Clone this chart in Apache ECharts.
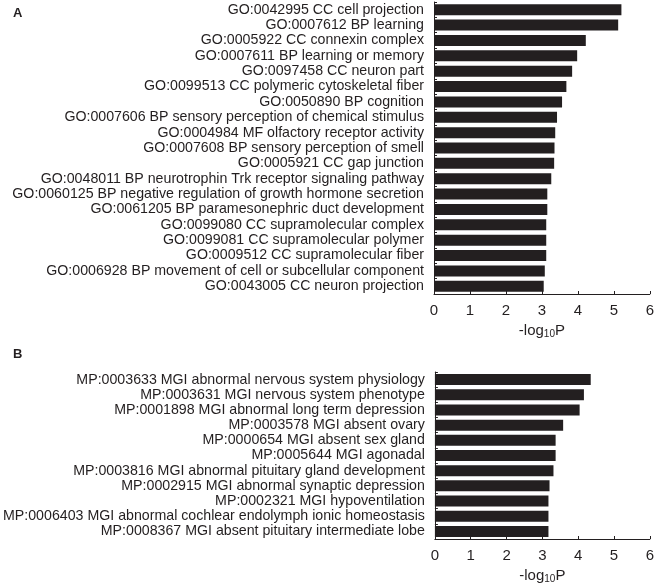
<!DOCTYPE html>
<html lang="en">
<head>
    <meta charset="UTF-8">
    <title>GO / MP enrichment</title>
    <script src="https://cdn.jsdelivr.net/npm/echarts@6/dist/echarts.min.js"></script>
    <style>
        html, body {
            margin: 0;
            height: 100%;
            background: #fff;
        }
    </style>
</head>
<body>
<div id="main" style="width: 657px;height: 585px"></div>
</body>
</html>
<script>
    // 上半部分 GO 条目
    var goTerms = [
        'GO:0042995 CC cell projection',
        'GO:0007612 BP learning',
        'GO:0005922 CC connexin complex',
        'GO:0007611 BP learning or memory',
        'GO:0097458 CC neuron part',
        'GO:0099513 CC polymeric cytoskeletal fiber',
        'GO:0050890 BP cognition',
        'GO:0007606 BP sensory perception of chemical stimulus',
        'GO:0004984 MF olfactory receptor activity',
        'GO:0007608 BP sensory perception of smell',
        'GO:0005921 CC gap junction',
        'GO:0048011 BP neurotrophin Trk receptor signaling pathway',
        'GO:0060125 BP negative regulation of growth hormone secretion',
        'GO:0061205 BP paramesonephric duct development',
        'GO:0099080 CC supramolecular complex',
        'GO:0099081 CC supramolecular polymer',
        'GO:0009512 CC supramolecular fiber',
        'GO:0006928 BP movement of cell or subcellular component',
        'GO:0043005 CC neuron projection'
    ];
    var goValues = [5.21, 5.12, 4.22, 3.98, 3.84, 3.68, 3.56, 3.42, 3.37, 3.35,
        3.34, 3.26, 3.15, 3.15, 3.12, 3.12, 3.12, 3.08, 3.05];

    // 下半部分 MP 条目
    var mpTerms = [
        'MP:0003633 MGI abnormal nervous system physiology',
        'MP:0003631 MGI nervous system phenotype',
        'MP:0001898 MGI abnormal long term depression',
        'MP:0003578 MGI absent ovary',
        'MP:0000654 MGI absent sex gland',
        'MP:0005644 MGI agonadal',
        'MP:0003816 MGI abnormal pituitary gland development',
        'MP:0002915 MGI abnormal synaptic depression',
        'MP:0002321 MGI hypoventilation',
        'MP:0006403 MGI abnormal cochlear endolymph ionic homeostasis',
        'MP:0008367 MGI absent pituitary intermediate lobe'
    ];
    var mpValues = [4.35, 4.16, 4.04, 3.58, 3.37, 3.37, 3.31, 3.20, 3.17, 3.17, 3.17];

    var xTicks = [0, 1, 2, 3, 4, 5, 6];

    var font = '"Liberation Sans", Arial, sans-serif';
    var barColor = '#231f20';

    function xAxisOf(idx) {
        return {
            type: 'value',
            gridIndex: idx,
            min: xTicks[0],
            max: xTicks[xTicks.length - 1],
            interval: 1,
            splitLine: {show: false},
            axisLine: {show: true, lineStyle: {color: '#231f20', width: 1}},
            axisTick: {show: true, inside: true, length: 3, lineStyle: {color: '#231f20'}},
            axisLabel: {color: '#231f20', fontSize: 15, fontFamily: font, margin: 9},
            name: '{a|-log}{b|10}{a|P}',
            nameLocation: 'middle',
            nameGap: 29,
            nameTextStyle: {
                rich: {
                    a: {fontSize: 15, fontFamily: font, color: '#231f20'},
                    b: {fontSize: 10, fontFamily: font, color: '#231f20', padding: [6, 0, 0, 0]}
                }
            }
        };
    }

    function yAxisOf(idx, data) {
        return {
            type: 'category',
            gridIndex: idx,
            data: data,
            inverse: true,
            axisLine: {show: true, lineStyle: {color: '#231f20', width: 1}},
            axisTick: {show: true, inside: true, length: 3, alignWithLabel: false, lineStyle: {color: '#231f20'}},
            axisLabel: {interval: 0, color: '#231f20', fontSize: 14.2, fontFamily: font, margin: 10}
        };
    }

    var myChart = echarts.init(document.getElementById('main'));
    var option = {
        animation: false,
        textStyle: {fontFamily: font},
        title: [
            {text: 'A', left: 8, top: 2, textStyle: {fontSize: 13, fontWeight: 'bold', color: '#231f20'}},
            {text: 'B', left: 8, top: 343, textStyle: {fontSize: 13, fontWeight: 'bold', color: '#231f20'}}
        ],
        grid: [
            {left: 434, right: 4, top: 2, height: 292},
            {left: 434, right: 4, top: 372, height: 169}
        ],
        xAxis: [xAxisOf(0), xAxisOf(1)],
        yAxis: [yAxisOf(0, goTerms), yAxisOf(1, mpTerms)],
        series: [
            {
                type: 'bar', xAxisIndex: 0, yAxisIndex: 0, data: goValues,
                barWidth: 11, itemStyle: {color: barColor}
            },
            {
                type: 'bar', xAxisIndex: 1, yAxisIndex: 1, data: mpValues,
                barWidth: 11, itemStyle: {color: barColor}
            }
        ]
    };
    myChart.setOption(option);
</script>
